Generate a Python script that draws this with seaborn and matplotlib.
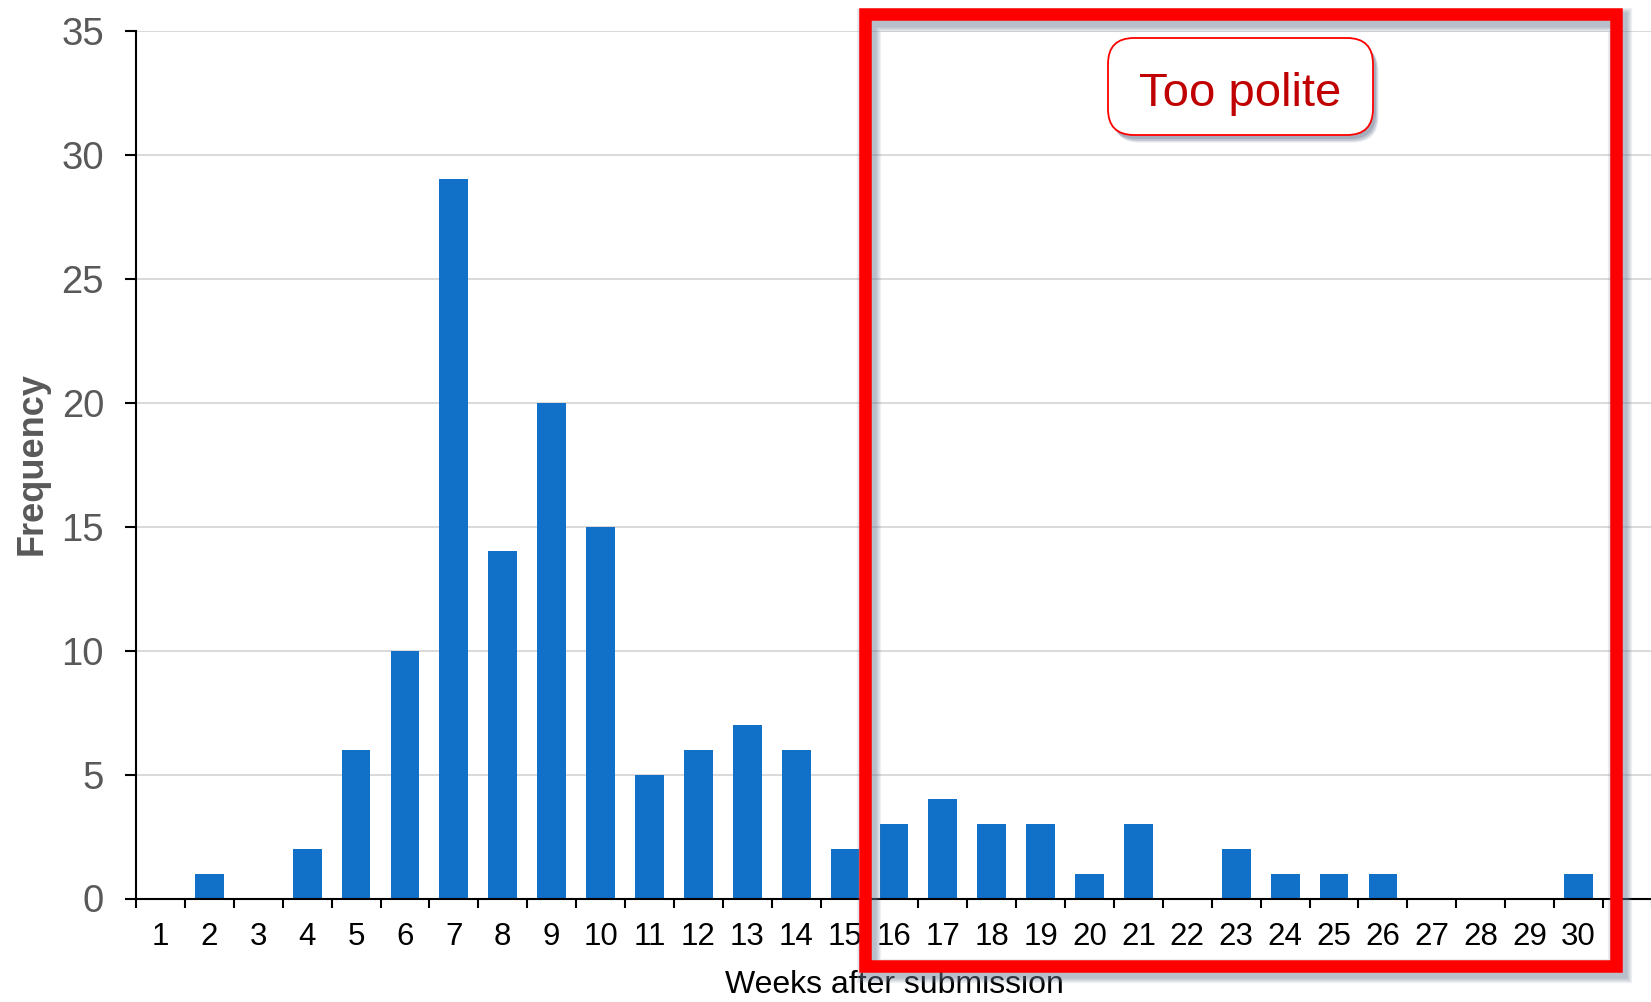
import numpy as np
import pandas as pd
import matplotlib
matplotlib.use("Agg")
import matplotlib.pyplot as plt
import matplotlib.patheffects as pe
from matplotlib.patches import Rectangle, FancyBboxPatch
from matplotlib.ticker import FixedLocator
import seaborn as sns

# Review turnaround: how many papers got a decision N weeks after submission
weeks = list(range(1, 31))
frequency = [0, 1, 0, 2, 6, 10, 29, 14, 20, 15, 5, 6, 7, 6, 2,
             3, 4, 3, 3, 1, 3, 0, 2, 1, 1, 1, 0, 0, 0, 1]
y_ticks = [0, 5, 10, 15, 20, 25, 30, 35]
x_title = "Weeks after submission"
y_title = "Frequency"
callout_text = "Too polite"

BAR_BLUE = "#1170C8"
GRID = "#d9d9d9"
TICK_GREY = "#595959"
RED = "#FF0000"
DARK_RED = "#C00000"
SHADOW = "#6f7c96"

sns.set_theme(style="white")
plt.rcParams["font.family"] = ["Liberation Sans", "DejaVu Sans"]

W, H, DPI = 1651, 1002, 100
fig = plt.figure(figsize=(W / DPI, H / DPI), dpi=DPI)
fig.patch.set_facecolor("white")

slot = 48.9  # px per week
ax = fig.add_axes([136 / W, 103.5 / H, 31 * slot / W, (898.5 - 30.7) / H])

df = pd.DataFrame({"week": [str(w) for w in weeks], "freq": frequency})
sns.barplot(data=df, x="week", y="freq", order=list(df["week"]),
            color=BAR_BLUE, saturation=1, width=0.59, linewidth=0, ax=ax)

ax.set_xlim(-0.5, len(weeks) + 0.5)
ax.set_ylim(0, 35)
ax.yaxis.set_major_locator(FixedLocator(y_ticks))
ax.xaxis.set_minor_locator(FixedLocator(np.arange(-0.5, len(weeks) + 1, 1)))
ax.grid(axis="y", color=GRID, linewidth=1.4)
ax.grid(axis="x", visible=False)
ax.set_axisbelow(True)

for side in ("top", "right"):
    ax.spines[side].set_visible(False)
for side in ("left", "bottom"):
    ax.spines[side].set_color("black")
    ax.spines[side].set_linewidth(1.5)

ax.tick_params(axis="x", which="major", length=0, pad=17, labelsize=22.5,
               labelcolor="black")
ax.tick_params(axis="x", which="minor", length=6.5, width=1.5, color="black",
               direction="out", bottom=True)
ax.tick_params(axis="y", which="major", length=8, width=1.5, color="black",
               direction="out", left=True, pad=15, labelsize=27.5,
               labelcolor=TICK_GREY)

ax.set_xlabel(x_title, fontsize=23, color="black")
ax.xaxis.label.set_va("baseline")
ax.xaxis.set_label_coords(0.5, (898.5 - 993) / (898.5 - 30.7))
ax.set_ylabel(y_title, fontsize=26, color=TICK_GREY, fontweight="bold")
ax.yaxis.label.set_va("center")
ax.yaxis.set_label_coords((32 - 136) / (31 * slot), (898.5 - 463.5) / (898.5 - 30.7))


def soft_shadow(lw, dx, dy, steps=6, spread=0.7, alpha=0.1):
    effects = []
    for k in range(steps, 0, -1):
        effects.append(pe.Stroke(offset=(dx, dy), linewidth=lw + 2 * k * spread,
                                 foreground=SHADOW, alpha=alpha))
    effects.append(pe.Normal())
    return effects


# Red frame around the long tail (inches, from the figure's lower-left corner)
frame_lw = 9
frame = Rectangle((8.655, 0.365), 7.508, 9.512, fill=False, edgecolor=RED,
                  linewidth=frame_lw, joinstyle="miter",
                  transform=fig.dpi_scale_trans, zorder=10)
frame.set_path_effects(soft_shadow(frame_lw, 2.4, -4.0))
fig.add_artist(frame)

# Callout bubble
bubble = FancyBboxPatch((11.08, 8.67), 2.65, 0.97,
                        boxstyle="round,pad=0,rounding_size=0.26",
                        facecolor="white", edgecolor=RED, linewidth=1.3,
                        transform=fig.dpi_scale_trans, zorder=11)
bubble.set_path_effects([
    pe.SimplePatchShadow(offset=(4.0, -5.5), shadow_rgbFace=SHADOW, alpha=0.15),
    pe.SimplePatchShadow(offset=(3.2, -4.5), shadow_rgbFace=SHADOW, alpha=0.3),
    pe.SimplePatchShadow(offset=(2.2, -3.0), shadow_rgbFace=SHADOW, alpha=0.35),
    pe.Normal(),
])
fig.add_artist(bubble)

fig.text(12.405, 8.96, callout_text, transform=fig.dpi_scale_trans,
         ha="center", va="baseline", fontsize=34, color=DARK_RED, zorder=12)

fig.savefig("out.png", dpi=DPI)
